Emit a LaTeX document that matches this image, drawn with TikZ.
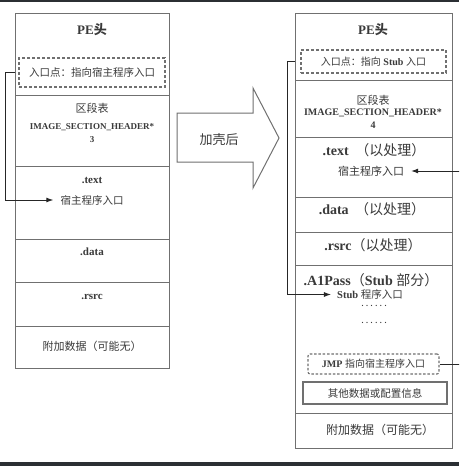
\documentclass[tikz,border=0pt]{standalone}
\usepackage{fontspec}
\setmainfont{Liberation Serif}
\newfontfamily\cjk{Noto Sans CJK SC}
\usetikzlibrary{arrows.meta}
\definecolor{ln}{HTML}{707070}
\definecolor{tx}{HTML}{3A3A3A}
\definecolor{edgecol}{HTML}{2B2F33}
\newcommand\fs[1]{\fontsize{#1}{#1}\selectfont}
\newcommand\sixdots{.\hspace{2.6pt}.\hspace{2.6pt}.\hspace{2.6pt}.\hspace{2.6pt}.\hspace{2.6pt}.}
\begin{document}
\begin{tikzpicture}[x=1pt,y=1pt,
  sec/.style={draw=ln, line width=1.1pt, inner sep=0pt, anchor=north west},
  lbl/.style={text=tx, inner sep=1pt},
  dbox/.style={draw=ln, line width=1.1pt, dash pattern=on 3pt off 2pt, inner sep=0pt, text=tx},
  sbox/.style={draw=ln, line width=1.1pt, inner sep=0pt, text=tx},
  conn/.style={draw=black!85, line width=0.9pt},
  tip/.style={-{Latex[length=7pt,width=5pt]}}
]
\useasboundingbox (0,0) rectangle (459,-466);
\clip (0,0) rectangle (459,-466);
\fill[white] (0,0) rectangle (459,-466);
\fill[edgecol] (0,0) rectangle (459,-1.5);
\fill[edgecol] (0,-462) rectangle (459,-466);

% left box
\node[sec, minimum width=154pt, minimum height=82pt] (L1) at (15,-13) {};
\node[sec, minimum width=154pt, minimum height=71pt] (L2) at (15,-95) {};
\node[sec, minimum width=154pt, minimum height=73pt] (L3) at (15,-166) {};
\node[sec, minimum width=154pt, minimum height=43pt] (L4) at (15,-239) {};
\node[sec, minimum width=154pt, minimum height=44pt] (L5) at (15,-282) {};
\node[sec, minimum width=154pt, minimum height=42pt] (L6) at (15,-326) {};

\node[lbl, font=\fs{13}] (peL) at (92,-30) {\bfseries PE\cjk 头};
\node[dbox, minimum width=146pt, minimum height=29pt, font=\fs{10.5}] (dashL) at (92,-72.5) {\cjk 入口点：指向宿主程序入口};
\node[lbl, font=\fs{11}] (secL) at (92,-108) {\cjk 区段表};
\node[lbl, font=\fs{9}\bfseries] (ishL) at (92,-127) {IMAGE\_SECTION\_HEADER*};
\node[lbl, font=\fs{9}\bfseries] (n3) at (92,-140) {3};
\node[lbl, font=\fs{11}\bfseries] (textL) at (92,-180) {.text};
\node[lbl, font=\fs{10.5}] (hostL) at (92,-200) {\cjk 宿主程序入口};
\node[lbl, font=\fs{11}\bfseries] (dataL) at (92,-252) {.data};
\node[lbl, font=\fs{11}\bfseries] (rsrcL) at (92,-297) {.rsrc};
\node[lbl, font=\fs{11}] (addL) at (92,-346) {\cjk 附加数据（可能无）};

% middle arrow
\draw[ln, line width=1pt] (177,-113) -- (253,-113) -- (253,-88) -- (279,-138) -- (253,-188) -- (253,-162) -- (177,-162) -- cycle;
\node[lbl, font=\fs{13}] (shell) at (219,-140) {\cjk 加壳后};

% right box
\node[sec, minimum width=157pt, minimum height=67pt] (R1) at (295,-13) {};
\node[sec, minimum width=157pt, minimum height=57pt] (R2) at (295,-80) {};
\node[sec, minimum width=157pt, minimum height=60pt] (R3) at (295,-137) {};
\node[sec, minimum width=157pt, minimum height=35pt] (R4) at (295,-197) {};
\node[sec, minimum width=157pt, minimum height=33pt] (R5) at (295,-232) {};
\node[sec, minimum width=157pt, minimum height=148pt] (R6) at (295,-265) {};
\node[sec, minimum width=157pt, minimum height=35pt] (R7) at (295,-413) {};

\node[lbl, font=\fs{13}] (peR) at (373,-30) {\bfseries PE\cjk 头};
\node[dbox, minimum width=145pt, minimum height=23pt, font=\fs{10}] (dashR) at (373.5,-61.5) {{\cjk 入口点：指向} \textbf{Stub} {\cjk 入口}};
\node[lbl, font=\fs{11}] (secR) at (373,-100) {\cjk 区段表};
\node[lbl, font=\fs{10}\bfseries] (ishR) at (373,-113) {IMAGE\_SECTION\_HEADER*};
\node[lbl, font=\fs{10}\bfseries] (n4) at (373,-125) {4};
\node[lbl, font=\fs{14}] (textR) at (374,-150) {\textbf{.text}\hspace{3pt} {\cjk （以处理）}};
\node[lbl, font=\fs{11}] (hostR) at (371,-171) {\cjk 宿主程序入口};
\node[lbl, font=\fs{14}] (dataR) at (372,-209) {\textbf{.data}\hspace{3pt} {\cjk （以处理）}};
\node[lbl, font=\fs{14}] (rsrcR) at (373,-245) {\textbf{.rsrc}{\cjk （以处理）}};
\node[lbl, font=\fs{14}] (a1R) at (371,-280) {\textbf{.A1Pass}{\cjk （}\textbf{Stub} {\cjk 部分）}};
\node[lbl, font=\fs{10.5}] (stubR) at (370,-294.5) {\textbf{Stub} {\cjk 程序入口}};
\node[lbl, font=\fs{8}\bfseries, anchor=base] (dots1) at (374,-306.5) {\sixdots};
\node[lbl, font=\fs{8}\bfseries, anchor=base] (dots2) at (374,-323.5) {\sixdots};
\node[dbox, rounded corners=2pt, dash pattern=on 2.5pt off 1.8pt, minimum width=131pt, minimum height=20pt, font=\fs{10}] (jmp) at (373.5,-364) {\textbf{JMP} {\cjk 指向宿主程序入口}};
\node[sbox, minimum width=144pt, minimum height=22pt, font=\fs{10.5}] (other) at (375,-393) {\cjk 其他数据或配置信息};
\node[lbl, font=\fs{12}] (addR) at (380,-430) {\cjk 附加数据（可能无）};

% connectors
\draw[conn, tip, shorten >=6pt] (dashL.west -| L1.west) -- ++(-10,0) |- (hostL.west);
\draw[conn, tip, shorten >=5pt] (dashR.west -| R1.west) -- ++(-8,0) |- (stubR.west);
\draw[conn, tip, shorten >=6pt] (jmp.east) -- ++(30,0) |- (hostR.east);
\end{tikzpicture}
\end{document}
